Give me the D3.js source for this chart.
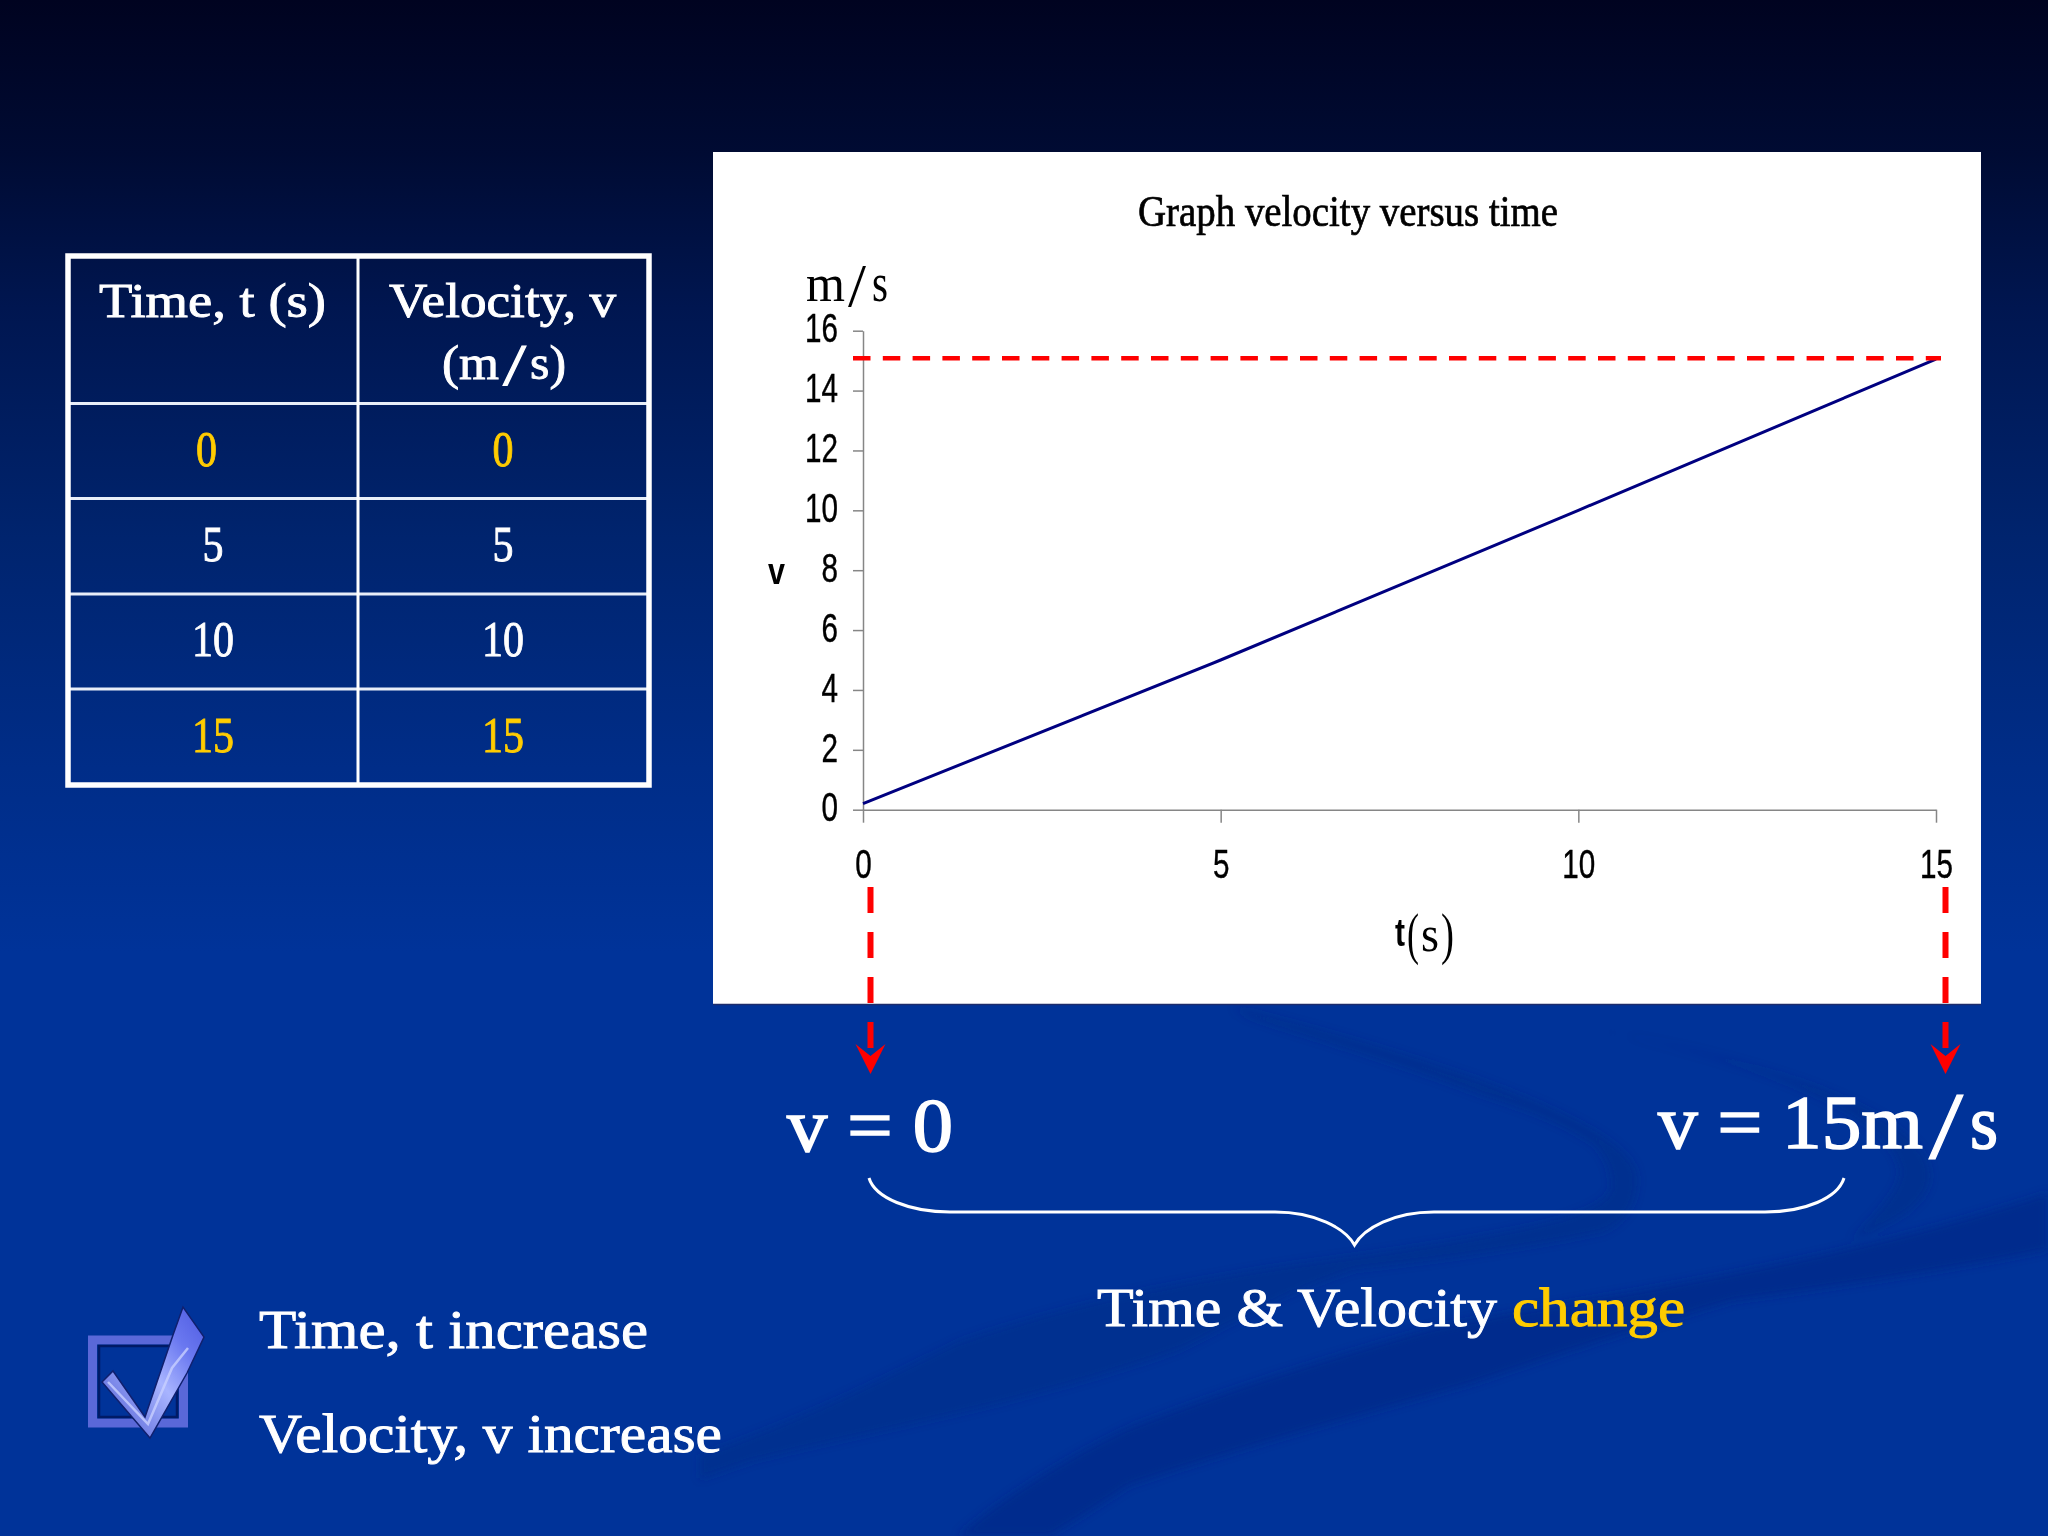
<!DOCTYPE html>
<html>
<head>
<meta charset="utf-8">
<script src="https://cdn.jsdelivr.net/npm/d3@7"></script>
<style>
html,body{margin:0;padding:0;background:#003399;}
svg{display:block;}
</style>
</head>
<body>
<div id="slide"></div>
<script>
//values
var timeValues = [0, 5, 10, 15];
var velocityValues = [0.2, 5, 10, 15.05];
var markerLevel = [15.08];
var xTicks = [0, 5, 10, 15];
var yTicks = [0, 2, 4, 6, 8, 10, 12, 14, 16];
var tableHeaders = ["Time, t (s)", "Velocity, v"];
var tableTimes = ["0", "5", "10", "15"];
var tableVelocities = ["0", "5", "10", "15"];
var rowColors = ["#ffcc00", "#ffffff", "#ffffff", "#ffcc00"];

var W = 2048, H = 1536;
var serif = "'Liberation Serif','DejaVu Serif',serif";
var sans = "'Liberation Sans',Arial,sans-serif";

var svg = d3.select("#slide").append("svg").attr("width", W).attr("height", H);

//background gradient, dark at the top
var defs = svg.append("defs");
var bg = defs.append("linearGradient").attr("id", "bg").attr("x1", 0).attr("y1", 0).attr("x2", 0).attr("y2", 1);
[[0, "#000320"], [0.1, "#000b33"], [0.2, "#001650"], [0.35, "#00246e"], [0.5, "#002d88"], [0.62, "#003399"], [1, "#003399"]]
	.forEach(function(s) { bg.append("stop").attr("offset", s[0]).attr("stop-color", s[1]); });
svg.append("rect").attr("width", W).attr("height", H).attr("fill", "url(#bg)");

//faint swooshes on the slide background
defs.append("filter").attr("id", "soft").append("feGaussianBlur").attr("stdDeviation", 4);
var swoosh = svg.append("g").attr("filter", "url(#soft)").attr("fill", "#002a85");
swoosh.append("path").attr("opacity", 0.45)
	.attr("d", "M1233 1007 C1400 1050 1637 1120 1637 1178 C1637 1205 1625 1222 1603 1232 C1520 1250 1420 1262 1353 1270 C1290 1290 1240 1320 1181 1349 C1040 1400 880 1430 752 1461 L700 1479 L700 1455 C800 1420 880 1380 958 1342 C1080 1300 1190 1280 1302 1263 C1400 1250 1500 1235 1560 1219 C1595 1208 1611 1198 1611 1185 C1611 1165 1600 1150 1594 1144 C1550 1115 1510 1105 1474 1092 C1390 1060 1320 1040 1250 1017 Z");
swoosh.append("path").attr("opacity", 0.45)
	.attr("d", "M1600 1030 C1800 1070 1930 1120 1930 1175 C1930 1205 1890 1225 1852 1240 C1880 1210 1900 1190 1900 1170 C1890 1110 1750 1060 1600 1030 Z");
swoosh.append("path").attr("opacity", 0.6)
	.attr("d", "M2048 1193 C1950 1225 1850 1250 1732 1273 C1620 1295 1530 1308 1432 1328 C1320 1360 1220 1392 1130 1427 C1060 1460 1000 1500 958 1536 L1050 1536 C1085 1515 1110 1498 1130 1485 C1250 1445 1360 1415 1474 1383 C1570 1350 1650 1325 1732 1301 C1850 1285 1950 1270 2048 1250 Z");

//helper for text fitted to a measured width
function fitText(parent, x, y, str, size, width, fill, family, anchor, weight) {
	return parent.append("text")
		.attr("x", x).attr("y", y)
		.attr("font-family", family || serif)
		.attr("font-size", size)
		.attr("font-weight", weight || "normal")
		.attr("text-anchor", anchor || "start")
		.attr("textLength", width)
		.attr("lengthAdjust", "spacingAndGlyphs")
		.attr("fill", fill || "#ffffff")
		.text(str);
}

//slide text is a bit heavier than the plain serif face
var slideText = svg.append("g").attr("stroke", "#ffffff").attr("stroke-width", 0.9);

////////table////////
var table = svg.append("g");
var colX = [68, 358, 649];
var rowY = [256, 403.5, 498.5, 594, 689, 785];
rowY.slice(1, -1).forEach(function(y) {
	table.append("line").attr("x1", colX[0]).attr("x2", colX[2]).attr("y1", y).attr("y2", y)
		.attr("stroke", "#e8eef8").attr("stroke-width", 3);
});
table.append("line").attr("x1", colX[1]).attr("x2", colX[1]).attr("y1", rowY[0]).attr("y2", rowY[5])
	.attr("stroke", "#ffffff").attr("stroke-width", 3);
table.append("rect").attr("x", colX[0]).attr("y", rowY[0]).attr("width", colX[2] - colX[0]).attr("height", rowY[5] - rowY[0])
	.attr("fill", "none").attr("stroke", "#ffffff").attr("stroke-width", 5.5);

fitText(slideText, 99, 317, tableHeaders[0], 48, 227);
fitText(slideText, 389, 317, tableHeaders[1], 48, 227);
fitText(slideText, 442, 379, "(m", 48, 57);
fitText(slideText, 503, 385, "/", 60, 23);
fitText(slideText, 530, 379, "s)", 48, 36);

var baselines = [466, 561, 656, 752];
var timeX = [206.5, 213, 213, 213];
tableTimes.forEach(function(d, i) {
	fitText(table, timeX[i], baselines[i], d, 50, d.length * 21, rowColors[i], serif, "middle")
		.attr("stroke", rowColors[i]).attr("stroke-width", 0.9);
	fitText(table, 503, baselines[i], tableVelocities[i], 50, tableVelocities[i].length * 21, rowColors[i], serif, "middle")
		.attr("stroke", rowColors[i]).attr("stroke-width", 0.9);
});

////////chart panel////////
svg.append("rect").attr("x", 713).attr("y", 152).attr("width", 1268).attr("height", 852).attr("fill", "#ffffff");
svg.append("line").attr("x1", 713).attr("x2", 1981).attr("y1", 1004.5).attr("y2", 1004.5)
	.attr("stroke", "#1c2c6c").attr("stroke-width", 1.5);

var x = d3.scaleLinear().domain([0, 15]).range([863, 1936]);
var y = d3.scaleLinear().domain([0, 16]).range([809.7, 330.7]);

var yAxis = svg.append("g").attr("transform", "translate(" + x(0) + ",0)")
	.call(d3.axisLeft(y).tickValues(yTicks).tickSize(10).tickPadding(15).tickSizeOuter(0));
var xAxis = svg.append("g").attr("transform", "translate(0," + y(0) + ")")
	.call(d3.axisBottom(x).tickValues(xTicks).tickSize(13).tickPadding(27).tickSizeOuter(0));

[yAxis, xAxis].forEach(function(a) {
	a.select(".domain").attr("stroke", "#868686").attr("stroke-width", 1.5);
	a.selectAll(".tick line").attr("stroke", "#868686").attr("stroke-width", 1.5);
	a.selectAll("text")
		.attr("font-family", sans).attr("font-size", 40).attr("fill", "#000000")
		.attr("stroke", "#000000").attr("stroke-width", 0.4)
		.attr("textLength", function(d) { return String(d).length * 16.5; })
		.attr("lengthAdjust", "spacingAndGlyphs");
});
yAxis.selectAll("text").attr("dy", "0.28em");

//velocity line
var line = d3.line().x(function(d) { return x(d[0]); }).y(function(d) { return y(d[1]); });
svg.append("path").datum(d3.zip(timeValues, velocityValues))
	.attr("d", line).attr("fill", "none").attr("stroke", "#000080").attr("stroke-width", 3);

//red guide at v = 15
svg.selectAll(".guide").data(markerLevel).enter().append("line")
	.attr("class", "guide")
	.attr("x1", 853).attr("x2", 1941)
	.attr("y1", function(d) { return y(d); }).attr("y2", function(d) { return y(d); })
	.attr("stroke", "#ff0000").attr("stroke-width", 4.5).attr("stroke-dasharray", "17.5 12.3");

//chart texts
fitText(svg, 1138, 226, "Graph velocity versus time", 44, 420, "#000000").attr("stroke", "#000000").attr("stroke-width", 0.7);
fitText(svg, 806, 301, "m", 52, 39, "#000000");
fitText(svg, 848, 306, "/", 62, 18, "#000000");
fitText(svg, 872, 301, "s", 54, 16, "#000000");
fitText(svg, 768, 584, "v", 36, 17, "#000000", sans, "start", "bold");
fitText(svg, 1395, 946, "t", 38, 10, "#000000", sans, "start", "bold");
fitText(svg, 1407, 953, "(", 58, 12, "#000000");
fitText(svg, 1421, 951, "s", 50, 18, "#000000");
fitText(svg, 1441, 953, ")", 58, 13, "#000000");

////////red arrows under the axis////////
[870.5, 1945.5].forEach(function(ax) {
	svg.append("line").attr("x1", ax).attr("x2", ax).attr("y1", 887).attr("y2", 1050)
		.attr("stroke", "#ff0000").attr("stroke-width", 6).attr("stroke-dasharray", "26 19");
	svg.append("path").attr("fill", "#ff0000")
		.attr("d", "M" + (ax - 15) + " 1044 L" + ax + " 1056 L" + (ax + 15) + " 1044 L" + ax + " 1074 Z");
});

////////values under the chart////////
fitText(slideText, 787, 1151, "v = 0", 76, 166).attr("stroke-width", 1.6);
fitText(slideText, 1658, 1148, "v = 15m", 76, 265).attr("stroke-width", 1.6);
fitText(slideText, 1929, 1158, "/", 96, 34).attr("stroke-width", 1);
fitText(slideText, 1970, 1148, "s", 76, 28).attr("stroke-width", 1.6);

svg.append("path").attr("fill", "none").attr("stroke", "#ffffff").attr("stroke-width", 3)
	.attr("d", "M869 1178 C875 1198 910 1212 950 1212 L1275 1212 C1315 1212 1345 1228 1354.5 1245 C1364 1228 1394 1212 1434 1212 L1765 1212 C1805 1212 1838 1198 1844 1178");

fitText(slideText, 1097, 1326, "Time & Velocity", 54, 400);
fitText(svg, 1512, 1326, "change", 54, 173, "#ffcc00").attr("stroke", "#ffcc00").attr("stroke-width", 0.9);

fitText(slideText, 259, 1348, "Time, t increase", 54, 389);
fitText(slideText, 259, 1452, "Velocity, v increase", 54, 463);

////////check box icon////////
var icon = svg.append("g");
var checkGrad = defs.append("linearGradient").attr("id", "chk").attr("x1", 0).attr("y1", 1).attr("x2", 1).attr("y2", 0);
[[0, "#4a58d0"], [0.5, "#a8b4ff"], [0.75, "#6a78f0"], [1, "#4d5ae0"]]
	.forEach(function(s) { checkGrad.append("stop").attr("offset", s[0]).attr("stop-color", s[1]); });
icon.append("rect").attr("x", 92.5).attr("y", 1340).attr("width", 91).attr("height", 83)
	.attr("fill", "none").attr("stroke", "#5a68d8").attr("stroke-width", 9);
icon.append("rect").attr("x", 99).attr("y", 1346).attr("width", 78).attr("height", 71)
	.attr("fill", "none").attr("stroke", "#001a66").attr("stroke-width", 2.5);
icon.append("path").attr("fill", "url(#chk)").attr("stroke", "#10206e").attr("stroke-width", 1.5)
	.attr("d", "M102 1382 L113 1371 L145 1417 L173 1335 L183 1307 L204 1337 L187 1373 L150 1438 Z");
icon.append("path").attr("fill", "none").attr("stroke", "#c8d0ff").attr("stroke-width", 2.5).attr("opacity", 0.8)
	.attr("d", "M108 1382 L148 1424 L172 1368 L188 1348");
</script>
</body>
</html>
